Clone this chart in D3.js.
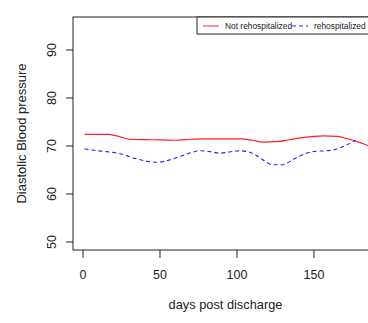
<!DOCTYPE html>
<html><head><meta charset="utf-8">
<script src="https://cdn.jsdelivr.net/npm/d3@7"></script>
<style>body{margin:0;background:#fff}svg{display:block}text{font-family:"Liberation Sans",Arial,sans-serif;fill:#222}</style>
</head><body><svg id="c" width="368" height="323"></svg>
<script>
const xTicks = [0, 50, 100, 150];
const yTicks = [50, 60, 70, 80, 90];
const seriesNames = ["Not rehospitalized", "rehospitalized"];
const notRehospDays = [1, 10, 16, 22, 30, 45, 60, 70, 78, 90, 102, 110, 117, 126, 134, 141, 150, 156, 165, 172, 179, 186, 192];
const notRehospBP   = [72.4, 72.4, 72.4, 72.1, 71.4, 71.3, 71.2, 71.4, 71.5, 71.5, 71.5, 71.2, 70.8, 70.9, 71.3, 71.7, 72.0, 72.1, 72.0, 71.5, 70.8, 70.0, 69.4];
const rehospDays = [1, 7, 13, 24, 35, 42, 48, 54, 63, 70, 76, 83, 89, 96, 102, 110, 117, 123, 130, 136, 145, 151, 158, 164, 169, 177];
const rehospBP   = [69.4, 69.1, 68.9, 68.4, 67.3, 66.8, 66.6, 66.9, 67.8, 68.6, 69.0, 68.8, 68.5, 68.8, 69.0, 68.5, 67.1, 66.1, 66.1, 67.1, 68.5, 68.9, 69.0, 69.3, 69.9, 71.2];

const svg = d3.select("#c");
const L = 73, T = 17, B = 250, R = 378;
const x = d3.scaleLinear().domain([-6.5, 191.6]).range([L, R]);
const y = d3.scaleLinear().domain([48.33, 96.875]).range([B, T]);

svg.append("rect").attr("x", L).attr("y", T).attr("width", R - L).attr("height", B - T)
  .attr("fill", "none").attr("stroke", "#222").attr("stroke-width", 1);

const xa = svg.append("g");
xTicks.forEach(t => {
  xa.append("line").attr("x1", x(t)).attr("x2", x(t)).attr("y1", B).attr("y2", B + 8).attr("stroke", "#222");
  xa.append("text").attr("x", x(t)).attr("y", 279).attr("text-anchor", "middle").attr("font-size", 12.5).text(t);
});
const ya = svg.append("g");
yTicks.forEach(t => {
  ya.append("line").attr("x1", L - 7).attr("x2", L).attr("y1", y(t)).attr("y2", y(t)).attr("stroke", "#222");
  ya.append("text").attr("transform", `translate(56,${y(t)}) rotate(-90)`).attr("text-anchor", "middle").attr("font-size", 12.5).text(t);
});

svg.append("text").attr("x", (L + R) / 2).attr("y", 309).attr("text-anchor", "middle").attr("font-size", 12.8).text("days post discharge");
svg.append("text").attr("transform", `translate(26,${(T + B) / 2}) rotate(-90)`).attr("text-anchor", "middle").attr("font-size", 13).text("Diastolic Blood pressure");

svg.append("clipPath").attr("id", "pc").append("rect").attr("x", L).attr("y", T).attr("width", R - L).attr("height", B - T);
const line = d3.line().x(d => x(d[0])).y(d => y(d[1])).curve(d3.curveMonotoneX);
const g = svg.append("g").attr("clip-path", "url(#pc)");
g.append("path").datum(notRehospDays.map((d, i) => [d, notRehospBP[i]]))
  .attr("d", line).attr("fill", "none").attr("stroke", "#ff2020").attr("stroke-width", 1.2);
g.append("path").datum(rehospDays.map((d, i) => [d, rehospBP[i]]))
  .attr("d", line).attr("fill", "none").attr("stroke", "#2020ff").attr("stroke-width", 1.1).attr("stroke-dasharray", "4,3");

const lg = svg.append("g");
lg.append("rect").attr("x", 197).attr("y", T).attr("width", R - 197).attr("height", 17).attr("fill", "#fff").attr("stroke", "#222");
lg.append("line").attr("x1", 203).attr("x2", 219).attr("y1", 26).attr("y2", 26).attr("stroke", "#ff2020");
lg.append("text").attr("x", 225).attr("y", 29).attr("font-size", 8.4).text(seriesNames[0]);
lg.append("line").attr("x1", 292).attr("x2", 308).attr("y1", 26).attr("y2", 26).attr("stroke", "#2020ff").attr("stroke-dasharray", "4,3");
lg.append("text").attr("x", 314).attr("y", 29).attr("font-size", 8.4).text(seriesNames[1]);
</script></body></html>
